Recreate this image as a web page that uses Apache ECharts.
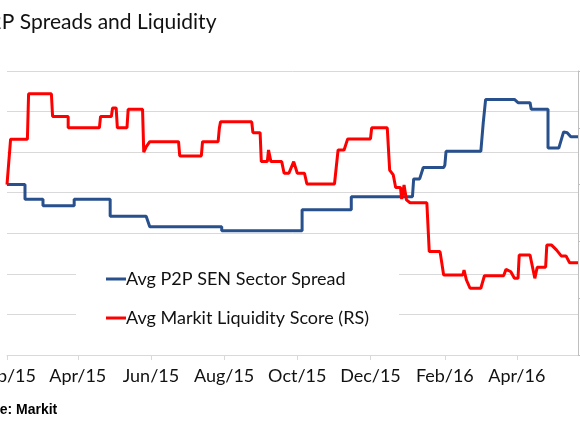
<!DOCTYPE html>
<html>
<head>
<meta charset="utf-8">
<script src="https://cdn.jsdelivr.net/npm/echarts@6/dist/echarts.min.js"></script>
<style>html,body{margin:0;padding:0;background:#fff;}#c{width:580px;height:435px;}</style>
</head>
<body>
<div id="c"></div>
<script>
var titleText = 'P2P Spreads and Liquidity';
var sourceText = 'Source: Markit';
var seriesNames = ['Avg P2P SEN Sector Spread', 'Avg Markit Liquidity Score (RS)'];
var axisStart = '2015-02-01', axisEnd = '2016-05-22';
var tickDates = ['2015-02-01','2015-04-01','2015-06-01','2015-08-01','2015-10-01','2015-12-01','2016-02-01','2016-04-01'];
var tickLabels = ['Feb/15','Apr/15','Jun/15','Aug/15','Oct/15','Dec/15','Feb/16','Apr/16'];

var blueDates = ['2015-02-01','2015-02-16','2015-02-16','2015-03-03','2015-03-03','2015-03-29','2015-03-29','2015-04-28','2015-04-28','2015-05-28','2015-05-31','2015-07-30','2015-07-30','2015-10-05','2015-10-05','2015-11-15','2015-11-15','2016-01-05','2016-01-06','2016-01-11','2016-01-14','2016-01-31','2016-02-01','2016-02-02','2016-03-02','2016-03-04','2016-03-06','2016-03-30','2016-04-02','2016-04-12','2016-04-13','2016-04-27','2016-04-27','2016-05-06','2016-05-10','2016-05-13','2016-05-16','2016-05-22'];
var blueValues = [210,210,192,192,184,184,192,192,171,171,158,158,153,153,179,179,195,195,217,217,231,231,234,251,251,286,315,315,311,311,303,303,255,255,275,274,269,269];

var redDates = ['2015-02-01','2015-02-04','2015-02-18','2015-02-19','2015-03-10','2015-03-11','2015-03-24','2015-03-24','2015-04-19','2015-04-20','2015-04-29','2015-04-30','2015-05-03','2015-05-04','2015-05-12','2015-05-13','2015-05-25','2015-05-26','2015-05-28','2015-05-31','2015-06-24','2015-06-25','2015-07-13','2015-07-14','2015-07-27','2015-07-28','2015-07-29','2015-08-24','2015-08-25','2015-08-31','2015-09-01','2015-09-06','2015-09-07','2015-09-09','2015-09-18','2015-09-20','2015-09-24','2015-09-28','2015-10-01','2015-10-07','2015-10-09','2015-11-01','2015-11-04','2015-11-09','2015-11-12','2015-12-01','2015-12-02','2015-12-15','2015-12-17','2015-12-20','2015-12-22','2015-12-26','2015-12-27','2015-12-29','2015-12-31','2016-01-03','2016-01-17','2016-01-19','2016-01-28','2016-01-31','2016-02-16','2016-02-17','2016-02-19','2016-02-22','2016-03-02','2016-03-05','2016-03-21','2016-03-23','2016-03-27','2016-03-30','2016-04-02','2016-04-03','2016-04-12','2016-04-16','2016-04-18','2016-04-25','2016-04-26','2016-04-30','2016-05-01','2016-05-04','2016-05-08','2016-05-12','2016-05-15','2016-05-22'];
var redValues = [2.60,2.76,2.76,2.92,2.92,2.84,2.84,2.80,2.80,2.84,2.84,2.87,2.87,2.80,2.80,2.865,2.865,2.714,2.733,2.751,2.751,2.701,2.701,2.751,2.751,2.798,2.821,2.821,2.783,2.783,2.681,2.681,2.722,2.681,2.681,2.640,2.640,2.681,2.640,2.640,2.602,2.602,2.722,2.722,2.761,2.761,2.800,2.800,2.651,2.634,2.590,2.590,2.549,2.599,2.546,2.536,2.536,2.364,2.364,2.282,2.282,2.299,2.264,2.235,2.235,2.279,2.279,2.302,2.293,2.270,2.270,2.352,2.352,2.270,2.309,2.309,2.387,2.387,2.393,2.370,2.349,2.349,2.325,2.325];

function ts(d) { return new Date(d + 'T00:00:00Z').getTime(); }
function pairs(d, v) { return d.map(function (x, i) { return [ts(x), v[i]]; }); }
var tickTimes = tickDates.map(ts);

var chart = echarts.init(document.getElementById('c'));
chart.setOption({
  animation: false,
  backgroundColor: '#fff',
  title: {
    text: titleText, left: -28, top: 7,
    textStyle: { fontFamily: 'Lato', fontSize: 21, fontWeight: 'normal', color: '#111' }
  },
  graphic: [{
    type: 'text', left: -40, top: 403,
    style: { text: sourceText, fontFamily: 'Liberation Sans', fontSize: 14, fontWeight: 'bold', fill: '#000' }
  }],
  legend: {
    orient: 'vertical', left: 76, top: 252,
    backgroundColor: '#fff',
    padding: [18, 30, 18, 30],
    itemGap: 21, itemWidth: 20, itemHeight: 3, icon: 'rect',
    textStyle: { fontFamily: 'Lato', fontSize: 18, color: '#111', padding: [0, 0, 0, -5] },
    data: seriesNames
  },
  grid: { left: 7, right: 2, top: 71, bottom: 80, containLabel: false, outerBoundsMode: 'none' },
  xAxis: {
    type: 'value',
    min: ts(axisStart), max: ts(axisEnd),
    axisLine: { lineStyle: { color: '#d9d9d9', width: 1 } },
    axisTick: { show: true, length: 5, lineStyle: { color: '#d9d9d9' }, customValues: tickTimes },
    axisLabel: {
      customValues: tickTimes, margin: 12, hideOverlap: false,
      fontFamily: 'Lato', fontSize: 18, color: '#111',
      formatter: function (val) {
        var i = tickTimes.indexOf(val);
        return i >= 0 ? tickLabels[i] : '';
      }
    },
    splitLine: { show: false }
  },
  yAxis: [{
    type: 'value', min: 0, max: 350, interval: 50,
    axisLine: { show: false }, axisTick: { show: false }, axisLabel: { show: false },
    splitLine: { lineStyle: { color: '#d9d9d9', width: 1 } }
  }, {
    type: 'value', min: 2.0, max: 3.0, interval: 0.2, position: 'right',
    axisLine: { show: true, lineStyle: { color: '#bfbfbf', width: 1 } },
    axisTick: { show: true, inside: false, length: 4, lineStyle: { color: '#bfbfbf' } },
    axisLabel: { show: false },
    splitLine: { show: false }
  }],
  series: [{
    name: seriesNames[0], type: 'line', yAxisIndex: 0, symbol: 'none',
    data: pairs(blueDates, blueValues),
    lineStyle: { color: '#27508d', width: 3 }, itemStyle: { color: '#27508d' }
  }, {
    name: seriesNames[1], type: 'line', yAxisIndex: 1, symbol: 'none',
    data: pairs(redDates, redValues),
    lineStyle: { color: '#ff0000', width: 3 }, itemStyle: { color: '#ff0000' }
  }]
});
</script>
</body>
</html>
